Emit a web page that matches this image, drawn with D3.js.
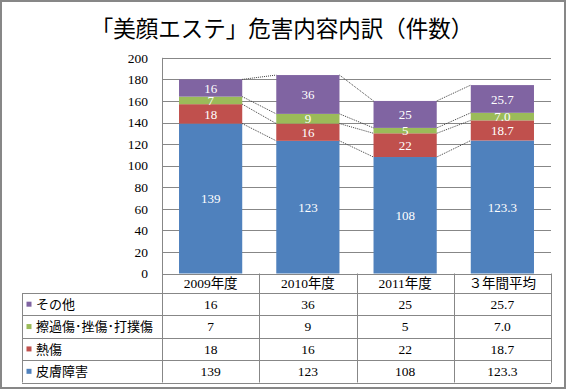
<!DOCTYPE html>
<html><head><meta charset="utf-8">
<script src="https://cdn.jsdelivr.net/npm/d3@7"></script>
<style>
html,body{margin:0;padding:0;background:#fff;}
svg{display:block;}
</style></head>
<body>
<svg id="chart" width="566" height="390"></svg>
<script>
// ---- data ----
const title = "「美顔エステ」危害内容内訳（件数）";
const categories = ["2009年度", "2010年度", "2011年度", "３年間平均"];
const decimals = [0, 0, 0, 1];
const seriesNames = ["皮膚障害", "熱傷", "擦過傷･挫傷･打撲傷", "その他"];
const skinValues = [139, 123, 108, 123.3];
const burnValues = [18, 16, 22, 18.7];
const abrasionValues = [7, 9, 5, 7.0];
const otherValues = [16, 36, 25, 25.7];
const seriesColors = ["#4F81BD", "#C0504D", "#9BBB59", "#8064A2"];
const yTicks = [0, 20, 40, 60, 80, 100, 120, 140, 160, 180, 200];

const seriesValues = [skinValues, burnValues, abrasionValues, otherValues];
const rows = categories.map((c, i) => {
  const r = {cat: c, i: i};
  seriesNames.forEach((s, k) => r[s] = seriesValues[k][i]);
  return r;
});
const fmt = (v, i) => v.toFixed(decimals[i]);

const svg = d3.select("#chart");
const W = 566, H = 390;
const plot = {left: 162, right: 551, top: 57.8, bottom: 273.5};
const tableLeft = 22;
const numFont = "'Liberation Serif','Noto Sans CJK JP',serif";
const cjkFont = "'Noto Sans CJK JP','Liberation Serif',sans-serif";

svg.append("rect").attr("x", 0).attr("y", 0).attr("width", W).attr("height", H).attr("fill", "#fff");

// title
svg.append("text").attr("x", 282).attr("y", 37).attr("text-anchor", "middle")
  .attr("font-family", cjkFont).attr("font-size", 22.5).attr("fill", "#000").text(title);

const x = d3.scaleBand().domain(categories).range([plot.left, plot.right])
  .paddingInner(0.35).paddingOuter(0.175);
const y = d3.scaleLinear().domain([0, 200]).range([plot.bottom, plot.top]);

// gridlines
svg.append("g").selectAll("line").data(yTicks).join("line")
  .attr("x1", plot.left).attr("x2", plot.right)
  .attr("y1", d => Math.round(y(d)) + 0.5).attr("y2", d => Math.round(y(d)) + 0.5)
  .attr("stroke", "#878787").attr("stroke-width", 1);

// y axis labels
const yAxis = d3.axisLeft(y).tickValues(yTicks).tickSize(0).tickPadding(14);
const ga = svg.append("g").attr("transform", `translate(${plot.left},0)`).call(yAxis);
ga.select(".domain").remove();
ga.selectAll("text").attr("font-family", numFont).attr("font-size", 13.5).attr("fill", "#000");

// stacked bars
const stack = d3.stack().keys(seriesNames)(rows);
const layers = svg.append("g").selectAll("g").data(stack).join("g")
  .attr("fill", (d, k) => seriesColors[k]);
layers.selectAll("rect").data(d => d).join("rect")
  .attr("x", d => x(d.data.cat))
  .attr("width", x.bandwidth())
  .attr("y", d => y(d[1]))
  .attr("height", d => y(d[0]) - y(d[1]));

// series lines (dotted connectors)
const conn = svg.append("g");
stack.forEach(layer => {
  for (let i = 0; i < categories.length - 1; i++) {
    conn.append("line")
      .attr("x1", x(categories[i]) + x.bandwidth())
      .attr("y1", y(layer[i][1]))
      .attr("x2", x(categories[i + 1]))
      .attr("y2", y(layer[i + 1][1]))
      .attr("stroke", "#404040").attr("stroke-width", 1)
      .attr("stroke-dasharray", "1,1");
  }
});

// value labels
stack.forEach(layer => {
  svg.append("g").selectAll("text").data(layer).join("text")
    .attr("x", d => x(d.data.cat) + x.bandwidth() / 2)
    .attr("y", d => (y(d[0]) + y(d[1])) / 2)
    .attr("dy", "0.36em")
    .attr("text-anchor", "middle")
    .attr("font-family", numFont).attr("font-size", 13).attr("fill", "#fff")
    .text(d => fmt(d[1] - d[0], d.data.i));
});

// ---- data table ----
const headerTop = plot.bottom, headerBottom = 293;
const tableRowOrder = [3, 2, 1, 0]; // その他, 擦過傷..., 熱傷, 皮膚障害
const rowY = d3.scaleBand().domain(tableRowOrder).range([headerBottom, 382.5]);
const tableBottom = 382.5;
const tl = svg.append("g").attr("stroke", "#878787").attr("stroke-width", 1).attr("fill", "none");
tl.append("line").attr("x1", plot.left).attr("x2", plot.right)
  .attr("y1", Math.round(plot.bottom) + 0.5).attr("y2", Math.round(plot.bottom) + 0.5);
tl.append("line").attr("x1", plot.left + 0.5).attr("x2", plot.left + 0.5)
  .attr("y1", plot.top).attr("y2", tableBottom);
const seps = categories.map((c, i) => plot.left + x.step() * (i + 1));
tl.selectAll(".sep").data(seps).join("line")
  .attr("x1", d => Math.round(d) + 0.5).attr("x2", d => Math.round(d) + 0.5)
  .attr("y1", plot.bottom).attr("y2", tableBottom);
const hLines = [headerBottom].concat(tableRowOrder.map(k => rowY(k) + rowY.bandwidth()));
tl.selectAll(".h").data(hLines).join("line")
  .attr("x1", tableLeft).attr("x2", plot.right)
  .attr("y1", d => Math.round(d) + 0.5).attr("y2", d => Math.round(d) + 0.5);
tl.append("line").attr("x1", tableLeft + 0.5).attr("x2", tableLeft + 0.5)
  .attr("y1", headerBottom).attr("y2", tableBottom);

// header labels
svg.append("g").selectAll("text").data(categories).join("text")
  .attr("x", d => plot.left + x.step() * categories.indexOf(d) + x.step() / 2)
  .attr("y", (headerTop + headerBottom) / 2).attr("dy", "0.36em")
  .attr("text-anchor", "middle").attr("font-family", numFont).attr("font-size", 13.5)
  .attr("fill", "#000").text(d => d);

// row legend + values
tableRowOrder.forEach(k => {
  const cy = rowY(k) + rowY.bandwidth() / 2;
  svg.append("rect").attr("x", 26.5).attr("y", cy - 2.5).attr("width", 5).attr("height", 5)
    .attr("fill", seriesColors[k]);
  svg.append("text").attr("x", 36).attr("y", cy).attr("dy", "0.36em")
    .attr("font-family", cjkFont).attr("font-size", 13).attr("fill", "#000")
    .text(seriesNames[k]);
  svg.append("g").selectAll("text").data(seriesValues[k]).join("text")
    .attr("x", (d, i) => plot.left + x.step() * i + x.step() / 2)
    .attr("y", cy).attr("dy", "0.36em").attr("text-anchor", "middle")
    .attr("font-family", numFont).attr("font-size", 13.5).attr("fill", "#000")
    .text((d, i) => fmt(d, i));
});

// outer border
svg.append("rect").attr("x", 1).attr("y", 1).attr("width", 564).attr("height", 387)
  .attr("fill", "none").attr("stroke", "#878787").attr("stroke-width", 2);
</script>
</body></html>
